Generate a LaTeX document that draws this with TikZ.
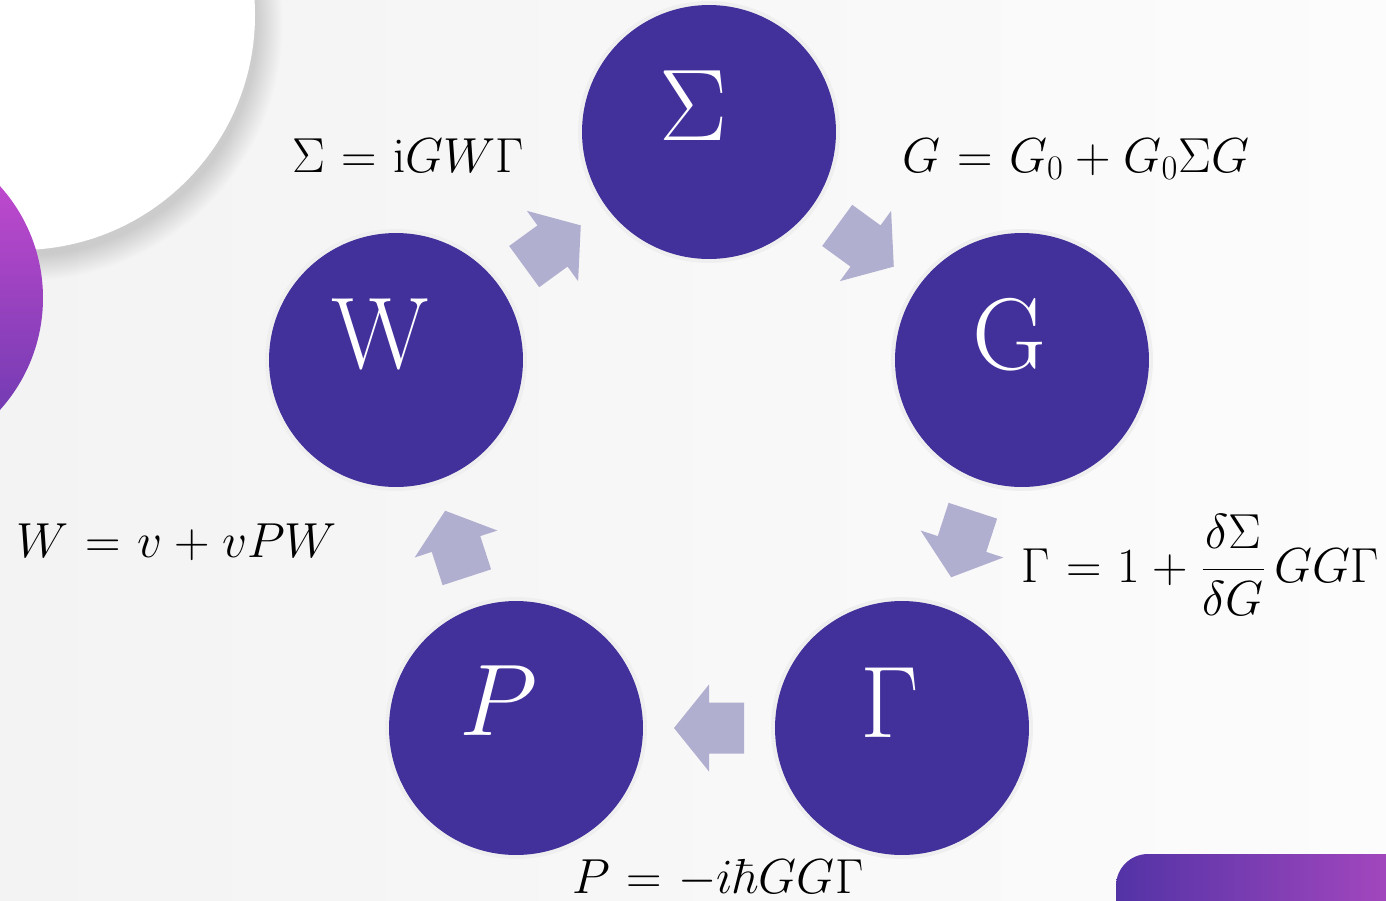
\RequirePackage{fix-cm}
\documentclass[tikz,border=0pt]{standalone}
\usetikzlibrary{calc}
\definecolor{cpurple}{HTML}{42319B}
\definecolor{carrow}{HTML}{B1AFD0}
\definecolor{cring}{HTML}{EFEFEF}
\definecolor{cbgleft}{HTML}{F3F3F3}
\definecolor{cbgright}{HTML}{FCFCFC}
\definecolor{cmagenta}{HTML}{D04CD4}
\definecolor{cviolet}{HTML}{6238AC}
\definecolor{cbarleft}{HTML}{5233A6}
\definecolor{cbarright}{HTML}{B24AC2}
\thickmuskip=6mu plus 3mu
\medmuskip=4.5mu plus 2mu minus 2mu
\tikzset{
  stage/.style={circle, fill=cpurple, minimum size=5.08cm, inner sep=0pt, preaction={draw=cring, line width=0.16cm}},
  letter/.style={text=white, inner sep=0pt, font=\fontsize{58}{60}\selectfont},
  eq/.style={anchor=base, inner sep=0pt, font=\fontsize{28}{34}\selectfont},
  flow/.pic={\fill[carrow] (-35,-25.5) -- (0,-25.5) -- (0,-43.5) -- (35,0) -- (0,43.5) -- (0,25.5) -- (-35,25.5) -- cycle;},
}
\newcommand\flowarrow[2]{%
  \path let \p1=($(#2)-(#1)$), \n1={atan2(\y1,\x1)} in pic[rotate=\n1] at ($(#1)!0.5!(#2)$) {flow};}

\begin{document}
\begin{tikzpicture}[x=0.02cm, y=-0.02cm]
  \useasboundingbox (0,0) rectangle (1386,900);
  \clip (0,0) rectangle (1386,900);
  \shade[left color=cbgleft, right color=cbgright] (0,0) rectangle (1386,900);
  \foreach \k in {0,...,19}
    \fill[black, opacity=0.009] (26,24) circle[radius=232+1.3*\k];
  \fill[white] (20,15) circle[radius=235];
  \shade[top color=cmagenta, bottom color=cviolet] (-124,298) circle[radius=167];
  \shade[left color=cbarleft, right color=cbarright, rounded corners=0.64cm] (1116,854) rectangle (1440,960);

  \node[stage] (sig) at (709,132) {};
  \node[stage] (g) at (1022,360) {};
  \node[stage] (gam) at (902,728) {};
  \node[stage] (p) at (516,728) {};
  \node[stage] (w) at (396,360) {};

  \node[letter] (lsig) at ($(sig)+(-15,-26)$) {$\Sigma$};
  \node[letter] (lg) at ($(g)+(-13,-25)$) {$\mathrm{G}$};
  \node[letter] (lgam) at ($(gam)+(-12,-25)$) {$\Gamma$};
  \node[letter] (lp) at ($(p)+(-17,-27)$) {$P$};
  \node[letter] (lw) at ($(w)+(-15,-26)$) {$\mathrm{W}$};

  \flowarrow{sig}{g}
  \flowarrow{g}{gam}
  \flowarrow{gam}{p}
  \flowarrow{p}{w}
  \flowarrow{w}{sig}

  \node[eq] (eqsig) at (408,172) {$\Sigma = \mathrm{i}GW\Gamma$};
  \node[eq] (eqg) at (1076,172) {$G = G_0 + G_0\Sigma G$};
  \node[eq] (eqgam) at (1200,582) {$\Gamma = 1 + \displaystyle\frac{\delta\Sigma}{\delta G}\,GG\Gamma$};
  \node[eq] (eqp) at (718,893) {$P = -i\hbar GG\Gamma$};
  \node[eq] (eqw) at (177,557) {$W = v + vPW$};
\end{tikzpicture}
\end{document}
